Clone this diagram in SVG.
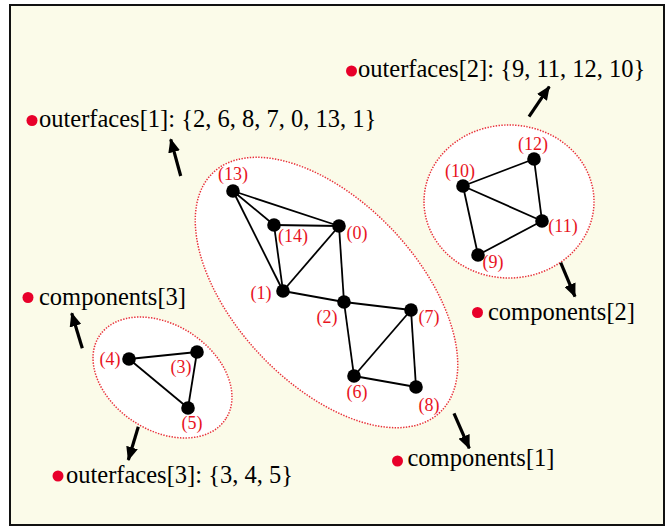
<svg xmlns="http://www.w3.org/2000/svg" width="671" height="529" viewBox="0 0 671 529">
<style>
.frame{fill:#fbfbe9;stroke:#111;stroke-width:2}
.comp{fill:#ffffff;stroke:#e8303a;stroke-width:1.5;stroke-dasharray:1.4 1.4}
.edge{stroke:#000;stroke-width:1.8;fill:none}
.arrow{stroke:#000;stroke-width:3.2;fill:none}
.node{fill:#000}
.lbl{font-family:"Liberation Serif","Times New Roman",serif;font-size:18px;fill:#e8141e;text-anchor:middle}
.txt{font-family:"Liberation Serif","Times New Roman",serif;font-size:24.5px;fill:#000}
.dot{fill:#e8002a}
</style>
<defs>
<marker id="ah" markerUnits="userSpaceOnUse" markerWidth="14" markerHeight="12" refX="13" refY="6" orient="auto">
<path d="M0,0 L14,6 L0,12 Z" fill="#000"/>
</marker>
</defs>
<rect class="frame" x="10" y="5" width="654" height="520"/>
<g id="regions">
<ellipse class="comp" cx="326.5" cy="292.5" rx="165" ry="91" transform="rotate(46.6 326.5 292.5)"/>
<ellipse class="comp" cx="509" cy="201.5" rx="85" ry="76.5"/>
<ellipse class="comp" cx="162.5" cy="377.5" rx="75.6" ry="52.6" transform="rotate(33.3 162.5 377.5)"/>
</g>
<g id="connectors">
<line class="edge" x1="233" y1="191" x2="339" y2="226"/>
<line class="edge" x1="233" y1="191" x2="274" y2="225"/>
<line class="edge" x1="233" y1="191" x2="283" y2="291"/>
<line class="edge" x1="274" y1="225" x2="339" y2="226"/>
<line class="edge" x1="274" y1="225" x2="283" y2="291"/>
<line class="edge" x1="339" y1="226" x2="283" y2="291"/>
<line class="edge" x1="339" y1="226" x2="344" y2="302"/>
<line class="edge" x1="283" y1="291" x2="344" y2="302"/>
<line class="edge" x1="344" y1="302" x2="411" y2="310"/>
<line class="edge" x1="344" y1="302" x2="354" y2="376"/>
<line class="edge" x1="354" y1="376" x2="411" y2="310"/>
<line class="edge" x1="411" y1="310" x2="416" y2="387"/>
<line class="edge" x1="354" y1="376" x2="416" y2="387"/>
<line class="edge" x1="463" y1="186" x2="534" y2="159"/>
<line class="edge" x1="534" y1="159" x2="542" y2="221"/>
<line class="edge" x1="463" y1="186" x2="542" y2="221"/>
<line class="edge" x1="463" y1="186" x2="478" y2="255"/>
<line class="edge" x1="478" y1="255" x2="542" y2="221"/>
<line class="edge" x1="129" y1="359" x2="197" y2="352"/>
<line class="edge" x1="197" y1="352" x2="188" y2="408"/>
<line class="edge" x1="129" y1="359" x2="188" y2="408"/>
<line class="arrow" x1="180.7" y1="176" x2="170.7" y2="139.3" marker-end="url(#ah)"/>
<line class="arrow" x1="529" y1="116.7" x2="549.3" y2="86.7" marker-end="url(#ah)"/>
<line class="arrow" x1="82.3" y1="348.3" x2="71.7" y2="313.3" marker-end="url(#ah)"/>
<line class="arrow" x1="560.7" y1="262.7" x2="575" y2="296.7" marker-end="url(#ah)"/>
<line class="arrow" x1="454" y1="413.3" x2="469.3" y2="448.3" marker-end="url(#ah)"/>
<line class="arrow" x1="138.3" y1="426.7" x2="128.3" y2="460" marker-end="url(#ah)"/>
</g>
<g id="n0"><circle class="node" cx="339" cy="226" r="6.8"/><text class="lbl" x="357" y="239">(0)</text></g>
<g id="n1"><circle class="node" cx="283" cy="291" r="6.8"/><text class="lbl" x="261" y="299">(1)</text></g>
<g id="n2"><circle class="node" cx="344" cy="302" r="6.8"/><text class="lbl" x="327" y="323">(2)</text></g>
<g id="n3"><circle class="node" cx="197" cy="352" r="6.8"/><text class="lbl" x="181" y="373">(3)</text></g>
<g id="n4"><circle class="node" cx="129" cy="359" r="6.8"/><text class="lbl" x="110" y="365">(4)</text></g>
<g id="n5"><circle class="node" cx="188" cy="408" r="6.8"/><text class="lbl" x="192" y="429">(5)</text></g>
<g id="n6"><circle class="node" cx="354" cy="376" r="6.8"/><text class="lbl" x="357" y="398">(6)</text></g>
<g id="n7"><circle class="node" cx="411" cy="310" r="6.8"/><text class="lbl" x="429" y="323">(7)</text></g>
<g id="n8"><circle class="node" cx="416" cy="387" r="6.8"/><text class="lbl" x="429" y="411">(8)</text></g>
<g id="n9"><circle class="node" cx="478" cy="255" r="6.8"/><text class="lbl" x="493" y="268">(9)</text></g>
<g id="n10"><circle class="node" cx="463" cy="186" r="6.8"/><text class="lbl" x="460" y="177">(10)</text></g>
<g id="n11"><circle class="node" cx="542" cy="221" r="6.8"/><text class="lbl" x="563" y="232">(11)</text></g>
<g id="n12"><circle class="node" cx="534" cy="159" r="6.8"/><text class="lbl" x="533" y="150">(12)</text></g>
<g id="n13"><circle class="node" cx="233" cy="191" r="6.8"/><text class="lbl" x="233" y="180">(13)</text></g>
<g id="n14"><circle class="node" cx="274" cy="225" r="6.8"/><text class="lbl" x="293" y="241.5">(14)</text></g>
<g id="label-outerfaces2"><circle class="dot" cx="351.5" cy="71" r="5.5"/><text class="txt" x="358" y="77">outerfaces[2]: {9, 11, 12, 10}</text></g>
<g id="label-outerfaces1"><circle class="dot" cx="32" cy="120.5" r="5.5"/><text class="txt" x="39" y="127">outerfaces[1]: {2, 6, 8, 7, 0, 13, 1}</text></g>
<g id="label-components3"><circle class="dot" cx="28" cy="297.5" r="5.5"/><text class="txt" x="39" y="305">components[3]</text></g>
<g id="label-components2"><circle class="dot" cx="477.5" cy="312.5" r="5.5"/><text class="txt" x="488" y="320">components[2]</text></g>
<g id="label-components1"><circle class="dot" cx="397.5" cy="461" r="5.5"/><text class="txt" x="407.5" y="466">components[1]</text></g>
<g id="label-outerfaces3"><circle class="dot" cx="58" cy="476" r="5.5"/><text class="txt" x="66" y="483">outerfaces[3]: {3, 4, 5}</text></g>
</svg>
